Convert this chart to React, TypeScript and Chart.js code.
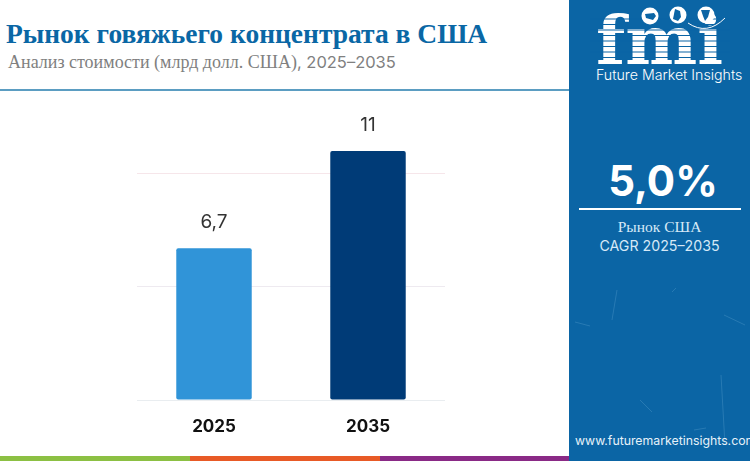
import React, { useEffect, useRef } from "react";
import { Chart, registerables } from "chart.js";

Chart.register(...registerables);

const categories = ["2025", "2035"];
const marketValues = [6.7, 11];
const valueLabels = ["6,7", "11"];
const barColors = ["#3094d8", "#003b77"];

const valueLabelPlugin = {
  id: "valueLabels",
  afterDatasetsDraw(chart: any) {
    const { ctx } = chart;
    const meta = chart.getDatasetMeta(0);
    ctx.save();
    ctx.font = "400 19px Inter, sans-serif";
    ctx.fillStyle = "#333333";
    ctx.textAlign = "center";
    ctx.textBaseline = "middle";
    meta.data.forEach((bar: any, i: number) => {
      ctx.fillText(valueLabels[i], bar.x, bar.y - 26);
    });
    ctx.restore();
  },
};

const abs = (left: number, top: number, extra: React.CSSProperties = {}): React.CSSProperties => ({
  position: "absolute",
  left,
  top,
  whiteSpace: "nowrap",
  ...extra,
});

const stripes = [19, 24.5, 30, 35.5, 41, 46.5, 52, 57.5];
const scratches = [
  [617, 290, 612, 320],
  [721, 375, 725, 445],
  [672, 292, 676, 288],
  [575, 322, 590, 326],
  [640, 400, 652, 412],
  [694, 430, 706, 428],
  [724, 315, 745, 325],
];

export default function App() {
  const ref = useRef<HTMLCanvasElement>(null);

  useEffect(() => {
    document.body.style.margin = "0";
    const chart = new Chart(ref.current as HTMLCanvasElement, {
      type: "bar",
      data: {
        labels: categories,
        datasets: [
          {
            data: marketValues,
            backgroundColor: barColors,
            borderRadius: 2,
            borderSkipped: false,
            categoryPercentage: 1,
            barPercentage: 0.49,
          },
        ],
      },
      options: {
        responsive: false,
        animation: false,
        layout: { padding: 0 },
        plugins: { legend: { display: false }, tooltip: { enabled: false } },
        scales: {
          x: {
            grid: { display: false },
            border: { display: false },
            afterFit: (scale: any) => {
              scale.height = 40;
            },
            ticks: {
              padding: 9,
              color: "#111111",
              font: { family: "Inter, sans-serif", size: 17, weight: "bold" },
            },
          },
          y: {
            min: 0,
            max: 13.25,
            border: { display: false },
            grid: {
              drawTicks: false,
              lineWidth: 1,
              color: (c: any) =>
                c.tick.value === 10 ? "#f6e6ea" : c.tick.value === 5 ? "#eeeaf0" : "#e9edf0",
            },
            ticks: { display: false, stepSize: 5, includeBounds: false },
          },
        },
      },
      plugins: [valueLabelPlugin],
    } as any);
    return () => chart.destroy();
  }, []);

  return (
    <div style={{ position: "absolute", left: 0, top: 0, width: 750, height: 461, overflow: "hidden", background: "#fff" }}>
      <div style={abs(6, 17, { font: "bold 27.5px 'Liberation Serif', serif", color: "#0a67a5", lineHeight: "33px" })}>
        Рынок говяжьего концентрата в США
      </div>
      <div style={abs(8, 51, { font: "18px 'Liberation Serif', serif", color: "#808080", lineHeight: "22px" })}>
        Анализ стоимости (млрд долл. США)
        <span style={{ fontFamily: "Inter, sans-serif", fontSize: 16.5 }}>, 2025–2035</span>
      </div>
      <div style={abs(0, 89, { width: 569, height: 1.5, background: "#5b9dc2" })} />

      <canvas ref={ref} width={308} height={340} style={abs(136.5, 100, { display: "block", width: 308, height: 340 })} />

      <div style={abs(0, 456, { width: 190, height: 5, background: "#8cc043" })} />
      <div style={abs(190, 456, { width: 190, height: 5, background: "#e85a26" })} />
      <div style={abs(380, 456, { width: 189, height: 5, background: "#8a2a86" })} />

      <div style={abs(569, 0, { width: 181, height: 461, background: "#0b65a5" })} />
      <svg width={181} height={461} viewBox="569 0 181 461" style={abs(569, 0)}>
        {scratches.map((s, i) => (
          <line key={i} x1={s[0]} y1={s[1]} x2={s[2]} y2={s[3]} stroke="#3f8cc0" strokeWidth={1} opacity={0.55} />
        ))}
        <text x={596} y={64} textLength={127} lengthAdjust="spacingAndGlyphs" fontFamily="'DejaVu Serif', serif" fontWeight="bold" fontSize={68} fill="#ffffff">
          fmi
        </text>
        {stripes.map((y) => (
          <line key={y} x1={590} x2={730} y1={y} y2={y} stroke="#0b65a5" strokeWidth={1.1} />
        ))}
        <circle cx={650} cy={16} r={8.5} fill="#ffffff" />
        <circle cx={678} cy={15} r={8.5} fill="#ffffff" />
        <circle cx={706} cy={15} r={8.5} fill="#ffffff" />
        <path d="M645 14 l9 -1 l2 3 l-3 4 l-7 -2 z" fill="#0b65a5" />
        <path d="M675 9 l5 2 l1 6 l-3 4 l-5 -2 z" fill="#0b65a5" />
        <path d="M701 10 l9 0 l-2 7 l-3 4 l-2 -5 z" fill="#0b65a5" />
        <path d="M688 23 Q707 36 725 18" fill="none" stroke="#ffffff" strokeWidth={1} />
      </svg>
      <div style={abs(596, 67, { font: "300 14.2px Inter, sans-serif", color: "#ffffff", lineHeight: "16px" })}>
        Future Market Insights
      </div>
      <div style={abs(569, 155, { width: 188, textAlign: "center", font: "bold 42px Inter, sans-serif", color: "#ffffff", lineHeight: "52px" })}>
        5,0%
      </div>
      <div style={abs(579, 208, { width: 162, height: 1.5, background: "#ffffff" })} />
      <div style={abs(569, 218, { width: 181, textAlign: "center", font: "15.5px 'Liberation Serif', serif", color: "#d6e9f7", lineHeight: "18px" })}>
        Рынок США
      </div>
      <div style={abs(569, 237, { width: 181, textAlign: "center", font: "14.2px Inter, sans-serif", color: "#d6e9f7", lineHeight: "18px" })}>
        CAGR 2025–2035
      </div>
      <div style={abs(575, 433, { font: "12.3px Inter, sans-serif", color: "#e6f1f9", lineHeight: "16px" })}>
        www.futuremarketinsights.com
      </div>
    </div>
  );
}
